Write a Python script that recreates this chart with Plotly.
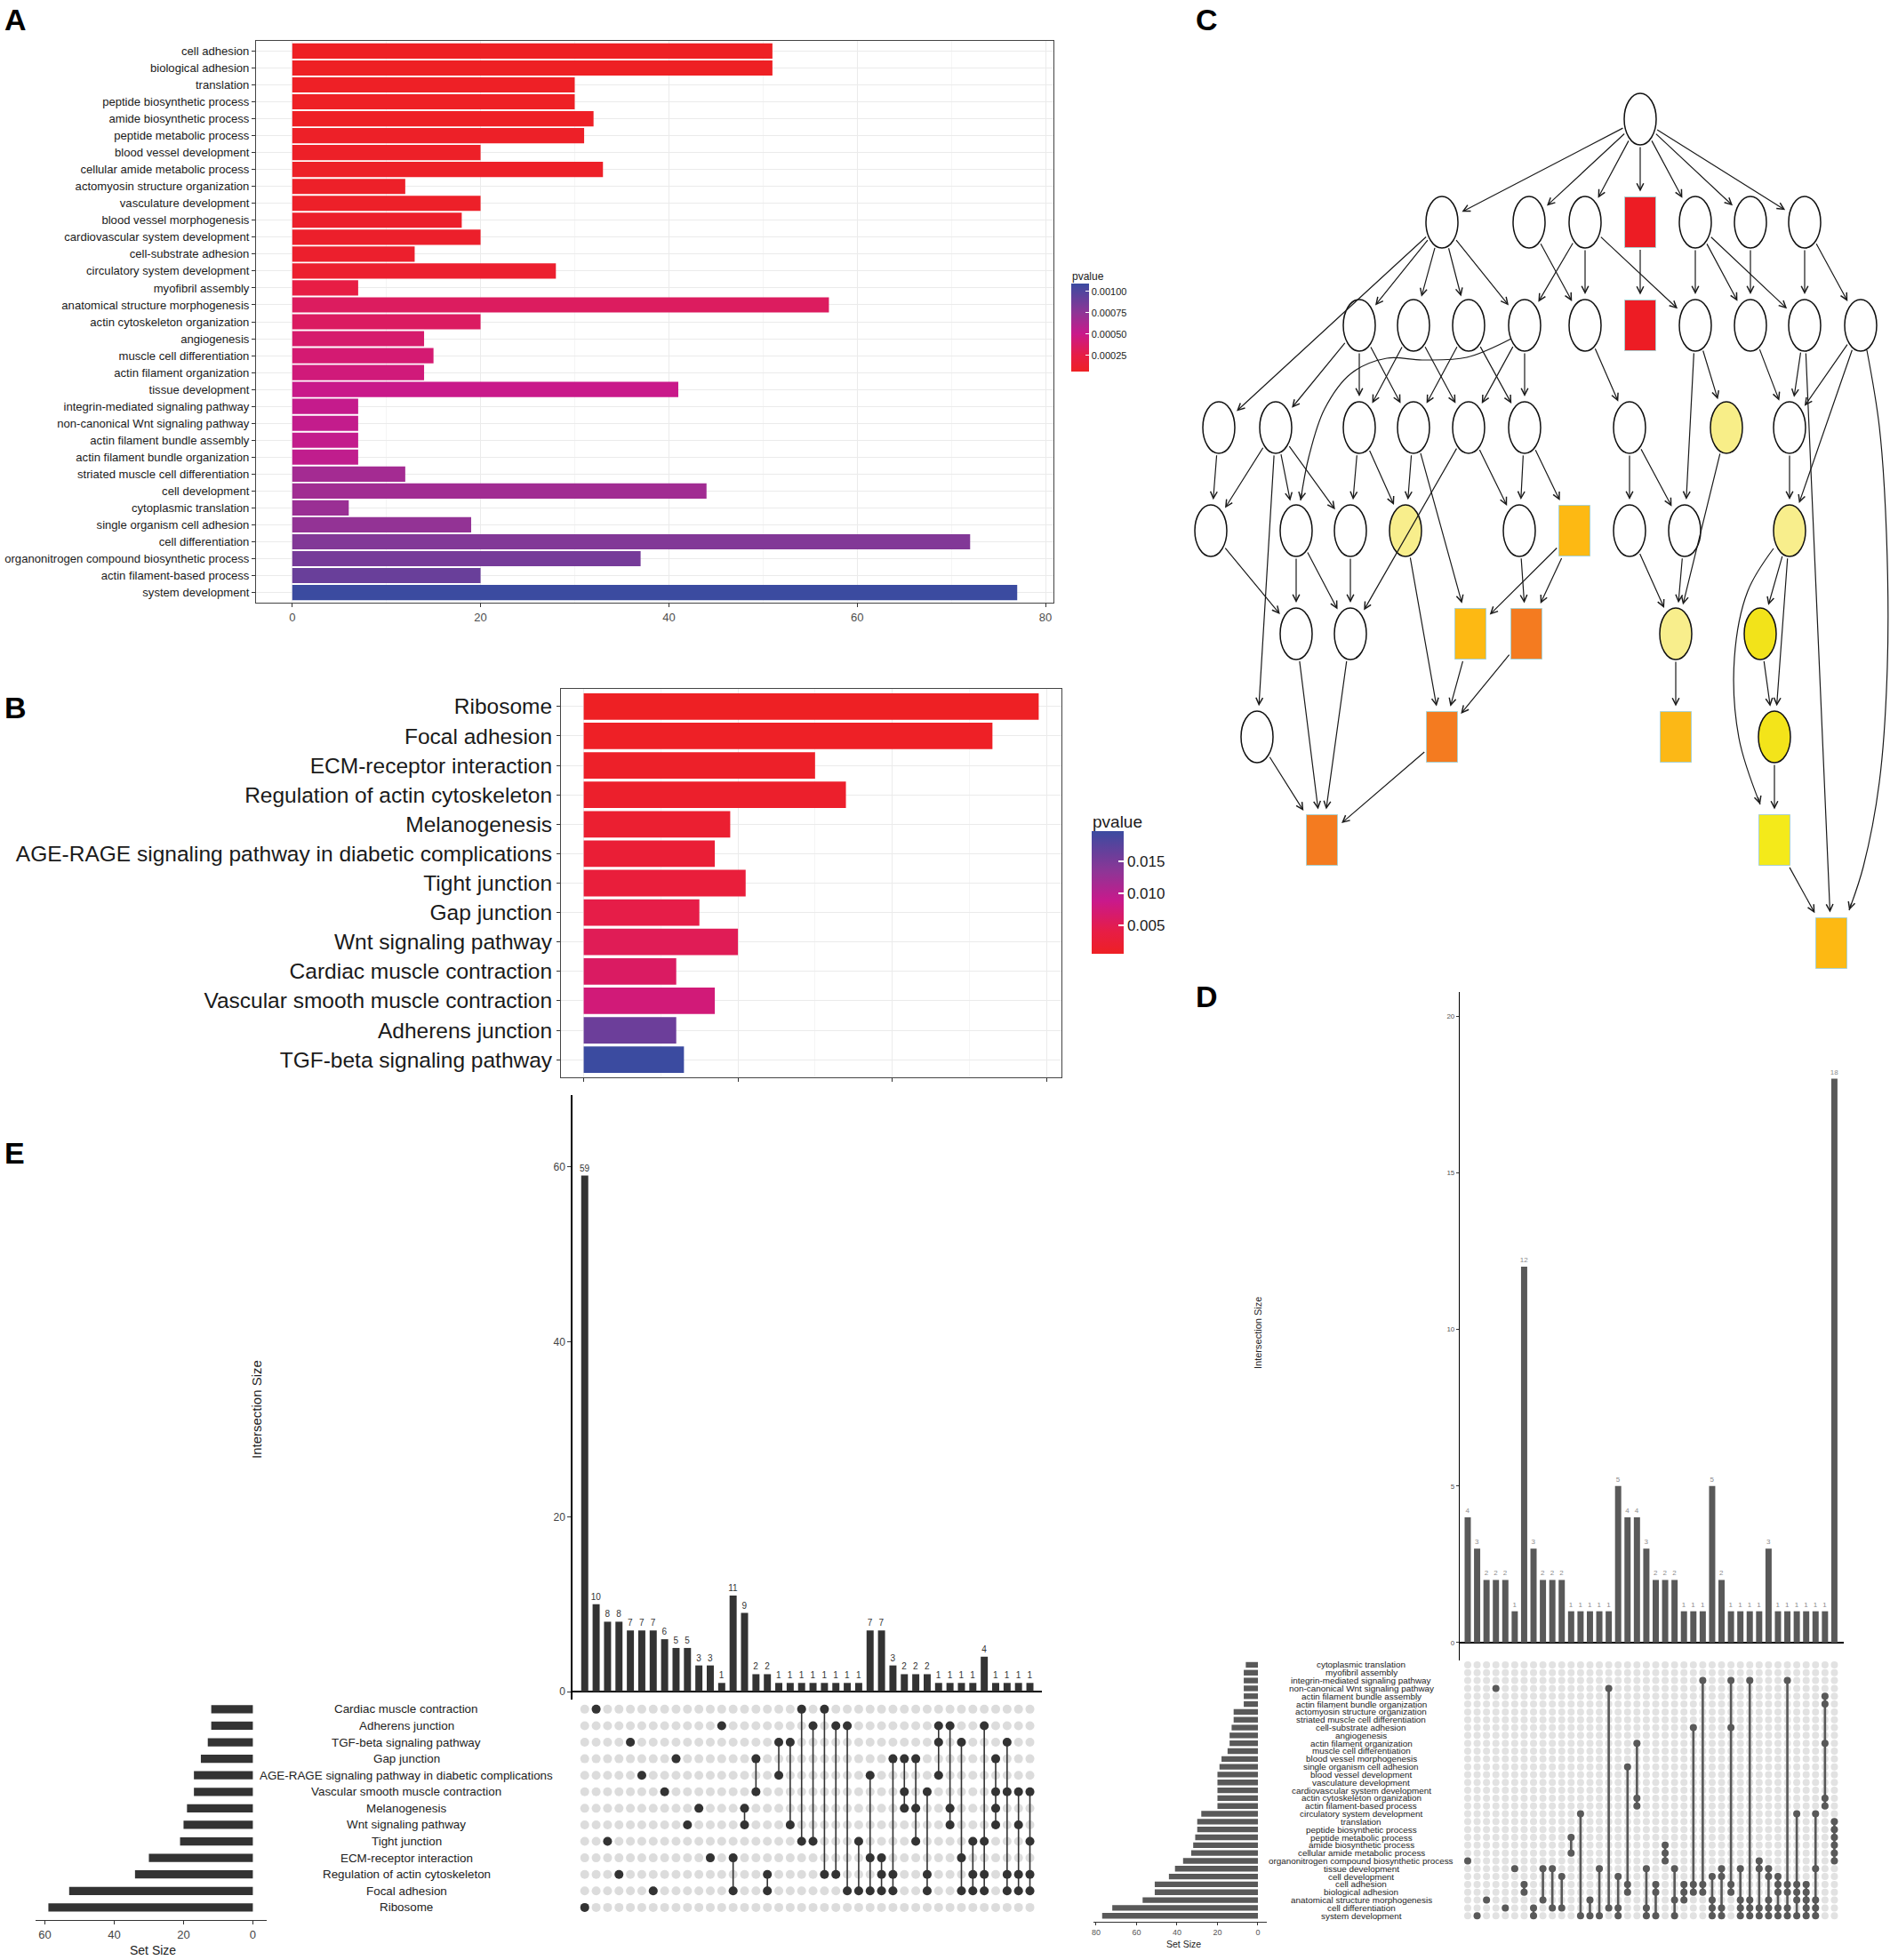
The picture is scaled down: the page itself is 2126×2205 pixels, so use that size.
import math
import plotly.graph_objects as go

W, H = 2126, 2205
FONT = "Liberation Sans, Arial, Helvetica, sans-serif"

# ---------------- Panel A : GO terms ----------------
go_terms = ["cell adhesion", "biological adhesion", "translation", "peptide biosynthetic process",
            "amide biosynthetic process", "peptide metabolic process", "blood vessel development",
            "cellular amide metabolic process", "actomyosin structure organization", "vasculature development",
            "blood vessel morphogenesis", "cardiovascular system development", "cell-substrate adhesion",
            "circulatory system development", "myofibril assembly", "anatomical structure morphogenesis",
            "actin cytoskeleton organization", "angiogenesis", "muscle cell differentiation",
            "actin filament organization", "tissue development", "integrin-mediated signaling pathway",
            "non-canonical Wnt signaling pathway", "actin filament bundle assembly",
            "actin filament bundle organization", "striated muscle cell differentiation", "cell development",
            "cytoplasmic translation", "single organism cell adhesion", "cell differentiation",
            "organonitrogen compound biosynthetic process", "actin filament-based process", "system development"]
go_counts = [51, 51, 30, 30, 32, 31, 20, 33, 12, 20, 18, 20, 13, 28, 7, 57, 20, 14, 15, 14, 41,
             7, 7, 7, 7, 12, 44, 6, 19, 72, 37, 20, 77]
go_pvalues = [0.00006, 0.00006, 0.00007, 0.00007, 0.00007, 0.00008, 0.00008, 0.00008, 0.00009, 0.00009,
              0.00010, 0.00010, 0.00011, 0.00012, 0.00024, 0.00034, 0.00035, 0.00039, 0.00041, 0.00044,
              0.00050, 0.00052, 0.00053, 0.00053, 0.00054, 0.00066, 0.00067, 0.00070, 0.00073, 0.00080,
              0.00085, 0.00090, 0.00109]
go_ticks = [0, 20, 40, 60, 80]
go_legend_ticks = [0.00025, 0.00050, 0.00075, 0.00100]
go_legend_text = ["0.00025", "0.00050", "0.00075", "0.00100"]

# ---------------- Panel B : KEGG pathways ----------------
kegg_terms = ["Ribosome", "Focal adhesion", "ECM-receptor interaction", "Regulation of actin cytoskeleton",
              "Melanogenesis", "AGE-RAGE signaling pathway in diabetic complications", "Tight junction",
              "Gap junction", "Wnt signaling pathway", "Cardiac muscle contraction",
              "Vascular smooth muscle contraction", "Adherens junction", "TGF-beta signaling pathway"]
kegg_counts = [59, 53, 30, 34, 19, 17, 21, 15, 20, 12, 17, 12, 13]
kegg_pvalues = [0.0006, 0.0008, 0.0011, 0.0014, 0.0019, 0.0024, 0.0030, 0.0042, 0.0052, 0.0060,
                0.0075, 0.0160, 0.0197]
kegg_legend_ticks = [0.005, 0.010, 0.015]
kegg_legend_text = ["0.005", "0.010", "0.015"]

# ---------------- Panel C : GO DAG ----------------
c_node_ids = ["R", "a1", "a2", "a3", "a4", "a5", "a6", "a7",
              "b1", "b2", "b3", "b4", "b5", "b6", "b7", "b8", "b9", "b10",
              "c1", "c2", "c3", "c4", "c5", "c6", "c7", "c8", "c9",
              "d1", "d2", "d3", "d4", "d5", "d6", "d7", "d8", "d9",
              "e1", "e2", "e3", "e4", "e5", "e6",
              "f1", "f2", "f3", "f4", "g1", "g2", "h1"]
c_node_x = [1845, 1622, 1720, 1783, 1845, 1907, 1969, 2030,
            1529, 1590, 1652, 1715, 1783, 1845, 1907, 1969, 2030, 2093,
            1371, 1435, 1529, 1590, 1652, 1715, 1833, 1942, 2013,
            1362, 1458, 1519, 1581, 1709, 1771, 1833, 1895, 2013,
            1458, 1519, 1654, 1717, 1885, 1980,
            1414, 1622, 1885, 1996, 1487, 1996, 2060]
c_node_y = [134, 250, 250, 250, 250, 250, 250, 250,
            366, 366, 366, 366, 366, 366, 366, 366, 366, 366,
            481, 481, 481, 481, 481, 481, 481, 481, 481,
            597, 597, 597, 597, 597, 597, 597, 597, 597,
            713, 713, 713, 713, 713, 713,
            829, 829, 829, 829, 945, 945, 1061]
c_node_shape = ["e", "e", "e", "e", "r", "e", "e", "e",
                "e", "e", "e", "e", "e", "r", "e", "e", "e", "e",
                "e", "e", "e", "e", "e", "e", "e", "e", "e",
                "e", "e", "e", "e", "e", "r", "e", "e", "e",
                "e", "e", "r", "r", "e", "e",
                "e", "r", "r", "e", "r", "r", "r"]
c_node_fill = ["white", "white", "white", "white", "#ED1C24", "white", "white", "white",
               "white", "white", "white", "white", "white", "#ED1C24", "white", "white", "white", "white",
               "white", "white", "white", "white", "white", "white", "white", "#F8EE88", "white",
               "white", "white", "white", "#F8EE8C", "white", "#FDB913", "white", "white", "#F8EE8C",
               "white", "white", "#FDB913", "#F47B20", "#F8EE8C", "#F2E31A",
               "white", "#F47B20", "#FCB816", "#F3E41A", "#F47B20", "#F4EA1A", "#FDB913"]
c_edges = [("R", "a1"), ("R", "a2"), ("R", "a3"), ("R", "a4"), ("R", "a5"), ("R", "a6"), ("R", "a7"),
           ("a1", "b1"), ("a1", "b2"), ("a1", "b3"), ("a1", "b4"), ("a1", "c1"),
           ("a2", "b5"), ("a3", "b4"), ("a3", "b5"), ("a3", "b7"), ("a4", "b6"),
           ("a5", "b7"), ("a5", "b8"), ("a5", "b9"), ("a6", "b8"), ("a7", "b9"), ("a7", "b10"),
           ("b1", "c2"), ("b1", "c3"), ("b1", "c4"), ("b2", "c3"), ("b2", "c5"), ("b3", "c4"), ("b3", "c6"),
           ("b4", "c5"), ("b4", "c6"), ("b5", "c7"), ("b7", "c8"), ("b7", "d8"), ("b8", "c9"),
           ("b9", "c9"), ("b9", "h1"), ("b10", "c9"), ("b10", "d9"),
           ("c1", "d1"), ("c2", "d1"), ("c2", "d2"), ("c2", "d3"), ("c2", "f1"), ("c3", "d3"), ("c3", "d4"),
           ("c4", "d4"), ("c4", "e3"), ("c5", "d5"), ("c5", "e2"), ("c6", "d5"), ("c6", "d6"),
           ("c7", "d7"), ("c7", "d8"), ("c8", "e5"), ("c9", "d9"),
           ("d1", "e1"), ("d2", "e1"), ("d2", "e2"), ("d3", "e2"), ("d4", "f2"), ("d5", "e4"),
           ("d6", "e3"), ("d6", "e4"), ("d7", "e5"), ("d8", "e5"), ("d9", "e6"), ("d9", "f4"),
           ("e1", "g1"), ("e2", "g1"), ("e3", "f2"), ("e4", "f2"), ("e5", "f3"), ("e6", "f4"),
           ("f1", "g1"), ("f2", "g1"), ("f4", "g2"), ("g2", "h1")]
c_curve_edges = [
    ("b4", "d2", [(1700, 381), (1650, 402), (1600, 405), (1560, 403), (1520, 420), (1490, 460), (1472, 515), (1463, 563)]),
    ("d9", "g2", [(1995, 617), (1966, 665), (1951, 740), (1956, 830), (1980, 905)]),
    ("b10", "h1", [(2100, 394), (2114, 480), (2122, 600), (2123, 750), (2114, 880), (2096, 975), (2080, 1024)]),
]

# ---------------- Panel D : GO UpSet ----------------
d_sets = ["cytoplasmic translation", "myofibril assembly", "integrin-mediated signaling pathway",
          "non-canonical Wnt signaling pathway", "actin filament bundle assembly",
          "actin filament bundle organization", "actomyosin structure organization",
          "striated muscle cell differentiation", "cell-substrate adhesion", "angiogenesis",
          "actin filament organization", "muscle cell differentiation", "blood vessel morphogenesis",
          "single organism cell adhesion", "blood vessel development", "vasculature development",
          "cardiovascular system development", "actin cytoskeleton organization", "actin filament-based process",
          "circulatory system development", "translation", "peptide biosynthetic process",
          "peptide metabolic process", "amide biosynthetic process", "cellular amide metabolic process",
          "organonitrogen compound biosynthetic process", "tissue development", "cell development",
          "cell adhesion", "biological adhesion", "anatomical structure morphogenesis", "cell differentiation",
          "system development"]
d_set_sizes = [6, 7, 7, 7, 7, 7, 12, 12, 13, 14, 14, 15, 18, 19, 20, 20, 20, 20, 20, 28, 30, 30, 31, 32, 33,
               37, 41, 44, 51, 51, 57, 72, 77]
d_inter_sizes = [4, 3, 2, 2, 2, 1, 12, 3, 2, 2, 2, 1, 1, 1, 1, 1, 5, 4, 4, 3, 2, 2, 2, 1, 1, 1, 5, 2,
                 1, 1, 1, 1, 3, 1, 1, 1, 1, 1, 1, 18]
d_inter_members = [[25], [32], [30], [3], [31], [26], [28, 29], [31, 32], [26, 30], [26, 31], [27, 31],
                   [22, 24], [19, 32], [30, 32], [26, 32], [3, 31], [27, 31, 32], [13, 28, 29],
                   [10, 17, 18], [26, 31, 32], [28, 29, 32], [23, 24, 25], [26, 30, 32], [28, 29, 30],
                   [8, 28, 29], [2, 28, 29], [27, 30, 31, 32], [26, 27, 31, 32], [2, 8, 28, 29],
                   [26, 30, 31, 32], [2, 30, 31, 32], [25, 26, 31, 32], [26, 27, 30, 31, 32],
                   [27, 28, 29, 31, 32], [2, 28, 29, 31, 32], [19, 28, 29, 30, 32], [28, 29, 30, 31, 32],
                   [19, 26, 30, 31, 32], [4, 5, 10, 17, 18], [20, 21, 22, 23, 24, 25]]
d_inter_ticks = [0, 5, 10, 15, 20]
d_set_ticks = [0, 20, 40, 60, 80]

# ---------------- Panel E : KEGG UpSet ----------------
e_sets = ["Cardiac muscle contraction", "Adherens junction", "TGF-beta signaling pathway", "Gap junction",
          "AGE-RAGE signaling pathway in diabetic complications", "Vascular smooth muscle contraction",
          "Melanogenesis", "Wnt signaling pathway", "Tight junction", "ECM-receptor interaction",
          "Regulation of actin cytoskeleton", "Focal adhesion", "Ribosome"]
e_set_sizes = [12, 12, 13, 15, 17, 17, 19, 20, 21, 30, 34, 53, 59]
e_inter_sizes = [59, 10, 8, 8, 7, 7, 7, 6, 5, 5, 3, 3, 1, 11, 9, 2, 2, 1, 1, 1, 1, 1, 1, 1, 1,
                 7, 7, 3, 2, 2, 2, 1, 1, 1, 1, 4, 1, 1, 1, 1]
e_inter_members = [[12], [0], [8], [10], [2], [4], [11], [5], [3], [7], [6], [9], [1], [9, 11], [6, 7],
                   [3, 5], [10, 11], [2, 4], [2, 7], [0, 8], [1, 8], [0, 10], [1, 10], [1, 11], [8, 11],
                   [4, 9, 11], [9, 10, 11], [3, 10, 11], [3, 5, 6], [3, 6, 8], [5, 10, 11], [1, 2, 4],
                   [1, 6, 7], [2, 9, 11], [8, 10, 11], [1, 8, 10, 11], [3, 5, 6, 7], [2, 5, 10, 11],
                   [5, 7, 10, 11], [5, 8, 10, 11]]
e_inter_ticks = [0, 20, 40, 60]
e_set_ticks = [0, 20, 40, 60]


# ---------------- helpers ----------------
def px(x):
    return x / W


def py(y):
    return 1 - y / H


def xdom(a, b):
    return [px(a), px(b)]


def ydom(top, bot):
    return [py(bot), py(top)]


PCS = [[0, "#EE2024"], [0.18, "#E71D45"], [0.43, "#C9198B"], [0.67, "#8E3596"], [1, "#3B4BA0"]]
GRID = "#EBEBEB"
GRID_MINOR = "#F5F5F5"

fig = go.Figure()
annotations = []
shapes = []


def label(x, y, text, size, angle=0, color="#222222", xanchor="center"):
    annotations.append(dict(x=px(x), y=py(y), xref="paper", yref="paper", text=text, showarrow=False,
                            textangle=angle, xanchor=xanchor, yanchor="middle",
                            font=dict(size=size, color=color)))


# ---------------- Panel A ----------------
fig.add_trace(go.Bar(
    x=go_counts, y=go_terms, orientation="h", width=0.9,
    marker=dict(color=go_pvalues, colorscale=PCS, cmin=0.00006, cmax=0.00109, line=dict(width=0),
                colorbar=dict(x=px(1205), xanchor="left", y=py(319), yanchor="top", len=99, lenmode="pixels",
                              thickness=20, xpad=0, ypad=0, outlinewidth=0,
                              tickvals=go_legend_ticks, ticktext=go_legend_text,
                              ticks="inside", ticklen=4, tickcolor="white", tickwidth=1,
                              tickfont=dict(size=11, color="#1A1A1A", family=FONT))),
    xaxis="x", yaxis="y", showlegend=False, hoverinfo="skip"))
label(1204, 311, "pvalue", 12, color="#1A1A1A", xanchor="left")

# ---------------- Panel B ----------------
fig.add_trace(go.Bar(
    x=kegg_counts, y=kegg_terms, orientation="h", width=0.9,
    marker=dict(color=kegg_pvalues, colorscale=PCS, cmin=0.00056, cmax=0.0197, line=dict(width=0),
                colorbar=dict(x=px(1228), xanchor="left", y=py(935), yanchor="top", len=138, lenmode="pixels",
                              thickness=36, xpad=0, ypad=0, outlinewidth=0,
                              tickvals=kegg_legend_ticks, ticktext=kegg_legend_text,
                              ticks="inside", ticklen=6, tickcolor="white", tickwidth=1.5,
                              tickfont=dict(size=17, color="#1A1A1A", family=FONT))),
    xaxis="x2", yaxis="y2", showlegend=False, hoverinfo="skip"))
label(1227, 924, "pvalue", 19, color="#1A1A1A", xanchor="left")

# ---------------- Panel C ----------------
EA, EB = 18, 29
RA, RB = 17.5, 28.5
nodes = {nid: (x, y, s) for nid, x, y, s in zip(c_node_ids, c_node_x, c_node_y, c_node_shape)}


def bnd(shape, ux, uy):
    if shape == "e":
        return 1.0 / math.sqrt((ux / EA) ** 2 + (uy / EB) ** 2)
    ca = RA / abs(ux) if abs(ux) > 1e-9 else 1e9
    cb = RB / abs(uy) if abs(uy) > 1e-9 else 1e9
    return min(ca, cb)


ARROW = dict(xref="x3", yref="y3", axref="x3", ayref="y3", text="", showarrow=True,
             arrowhead=5, arrowsize=1.25, arrowwidth=1.2, arrowcolor="#1A1A1A")

for s, t in c_edges:
    sx, sy, ss = nodes[s]
    tx, ty, ts = nodes[t]
    dx, dy = tx - sx, ty - sy
    L = math.hypot(dx, dy)
    ux, uy = dx / L, dy / L
    bs = bnd(ss, ux, uy)
    bt = bnd(ts, ux, uy)
    a = dict(ARROW)
    a.update(x=tx - ux * (bt + 6), y=ty - uy * (bt + 6), ax=sx + ux * (bs + 1), ay=sy + uy * (bs + 1))
    annotations.append(a)

for s, t, pts in c_curve_edges:
    xs = [p[0] for p in pts]
    ys = [p[1] for p in pts]
    fig.add_trace(go.Scatter(x=xs, y=ys, mode="lines", line=dict(color="#1A1A1A", width=1.2, shape="spline"),
                             xaxis="x3", yaxis="y3", showlegend=False, hoverinfo="skip"))
    (x1, y1), (x2, y2) = pts[-2], pts[-1]
    L = math.hypot(x2 - x1, y2 - y1)
    a = dict(ARROW)
    a.update(x=x2, y=y2, ax=x2 - (x2 - x1) / L * 10, ay=y2 - (y2 - y1) / L * 10)
    annotations.append(a)

for nid, x, y, shp, fill in zip(c_node_ids, c_node_x, c_node_y, c_node_shape, c_node_fill):
    if shp == "e":
        shapes.append(dict(type="circle", xref="x3", yref="y3", x0=x - EA, x1=x + EA, y0=y - EB, y1=y + EB,
                           fillcolor=fill, line=dict(color="#111111", width=1.5), layer="above"))
    else:
        shapes.append(dict(type="rect", xref="x3", yref="y3", x0=x - RA, x1=x + RA, y0=y - RB, y1=y + RB,
                           fillcolor=fill, line=dict(color="#A9D0D0", width=1), layer="above"))


# ---------------- UpSet helper ----------------
def upset_matrix(n_cols, n_rows, members, xa, ya, dot, gray, col, lw):
    gx, gy = [], []
    for i in range(n_cols):
        for r in range(n_rows):
            gx.append(i)
            gy.append(r)
    fig.add_trace(go.Scatter(x=gx, y=gy, mode="markers", marker=dict(size=dot, color=gray, line=dict(width=0)),
                             xaxis=xa, yaxis=ya, showlegend=False, hoverinfo="skip", cliponaxis=False))
    lx, ly = [], []
    for i, mem in enumerate(members):
        if len(mem) > 1:
            lx += [i, i, None]
            ly += [min(mem), max(mem), None]
    fig.add_trace(go.Scatter(x=lx, y=ly, mode="lines", line=dict(color=col, width=lw),
                             xaxis=xa, yaxis=ya, showlegend=False, hoverinfo="skip"))
    mx, my = [], []
    for i, mem in enumerate(members):
        for r in mem:
            mx.append(i)
            my.append(r)
    fig.add_trace(go.Scatter(x=mx, y=my, mode="markers", marker=dict(size=dot, color=col, line=dict(width=0)),
                             xaxis=xa, yaxis=ya, showlegend=False, hoverinfo="skip", cliponaxis=False))


# ---------------- Panel D ----------------
D_GRAY = "#595959"
for r in range(0, len(d_sets), 2):
    shapes.append(dict(type="rect", xref="paper", yref="y5", x0=px(1643), x1=px(2073), y0=r - 0.5, y1=r + 0.5,
                       fillcolor="#F2F2F2", line=dict(width=0), layer="below"))
fig.add_trace(go.Bar(x=list(range(len(d_inter_sizes))), y=d_inter_sizes, width=0.66,
                     marker=dict(color=D_GRAY, line=dict(width=0)),
                     text=[str(v) for v in d_inter_sizes], textposition="outside", constraintext="none",
                     textfont=dict(size=8, color="#8C8C8C"), cliponaxis=False,
                     xaxis="x4", yaxis="y4", showlegend=False, hoverinfo="skip"))
upset_matrix(len(d_inter_sizes), len(d_sets), d_inter_members, "x5", "y5", 8, "#E2E2E2", D_GRAY, 2.6)
fig.add_trace(go.Bar(x=d_set_sizes, y=list(range(len(d_sets))), orientation="h", width=0.72,
                     marker=dict(color=D_GRAY, line=dict(width=0)),
                     xaxis="x6", yaxis="y6", showlegend=False, hoverinfo="skip"))
for r, name in enumerate(d_sets):
    annotations.append(dict(x=px(1531), y=r, xref="paper", yref="y5", text=name, showarrow=False,
                            xanchor="center", yanchor="middle", font=dict(size=9.9, color="#222222")))
label(1415, 1500, "Intersection Size", 11, angle=-90)
label(1331, 2187, "Set Size", 10.5)

# ---------------- Panel E ----------------
E_DARK = "#333333"
for r in range(0, len(e_sets), 2):
    shapes.append(dict(type="rect", xref="paper", yref="y8", x0=px(644), x1=px(1172), y0=r - 0.5, y1=r + 0.5,
                       fillcolor="#F0F0F0", line=dict(width=0), layer="below"))
fig.add_trace(go.Bar(x=list(range(len(e_inter_sizes))), y=e_inter_sizes, width=0.62,
                     marker=dict(color=E_DARK, line=dict(width=0)),
                     text=[str(v) for v in e_inter_sizes], textposition="outside", constraintext="none",
                     textfont=dict(size=10, color="#333333"), cliponaxis=False,
                     xaxis="x7", yaxis="y7", showlegend=False, hoverinfo="skip"))
upset_matrix(len(e_inter_sizes), len(e_sets), e_inter_members, "x8", "y8", 10, "#DCDCDC", E_DARK, 1.6)
fig.add_trace(go.Bar(x=e_set_sizes, y=list(range(len(e_sets))), orientation="h", width=0.5,
                     marker=dict(color=E_DARK, line=dict(width=0)),
                     xaxis="x9", yaxis="y9", showlegend=False, hoverinfo="skip"))
for r, name in enumerate(e_sets):
    annotations.append(dict(x=px(457), y=r, xref="paper", yref="y8", text=name, showarrow=False,
                            xanchor="center", yanchor="middle", font=dict(size=13.4, color="#222222")))
label(288, 1586, "Intersection Size", 15)
annotations[-1]["textangle"] = -90
label(172, 2194, "Set Size", 14)

# ---------------- Panel letters ----------------
for letter, lx, ly in [("A", 17, 22), ("B", 17, 796), ("C", 1357, 22), ("D", 1357, 1121), ("E", 16, 1297)]:
    label(lx, ly, "<b>%s</b>" % letter, 34, color="#000000")

# ---------------- Axes ----------------
hidden = dict(showgrid=False, zeroline=False, showticklabels=False, showline=False, ticks="", automargin=False)

layout = dict(
    width=W, height=H, margin=dict(l=0, r=0, t=0, b=0), autosize=False,
    paper_bgcolor="white", plot_bgcolor="white", template="none",
    font=dict(family=FONT, color="#1A1A1A"), showlegend=False,
    xaxis=dict(domain=xdom(288, 1185), anchor="y", range=[-3.85, 80.85], tickvals=go_ticks,
               ticks="outside", ticklen=4, tickcolor="#333333", tickfont=dict(size=13, color="#4D4D4D"),
               showgrid=True, gridcolor=GRID, gridwidth=1,
               minor=dict(tickvals=[10, 30, 50, 70], showgrid=True, gridcolor=GRID_MINOR, ticks=""),
               showline=True, mirror=True, linecolor="#444444", linewidth=1, zeroline=False, automargin=False),
    yaxis=dict(domain=ydom(46, 678), anchor="x", type="category", categoryorder="array",
               categoryarray=go_terms[::-1], range=[-0.6, 32.6],
               ticks="outside", ticklen=4, tickcolor="#333333", tickfont=dict(size=13.1, color="#1A1A1A"),
               showgrid=True, gridcolor=GRID, showline=True, mirror=True, linecolor="#444444",
               linewidth=1, zeroline=False, automargin=False),
    xaxis2=dict(domain=xdom(631, 1194), anchor="y2", range=[-2.95, 61.95], tickvals=[0, 20, 40, 60],
                ticks="outside", ticklen=4, tickcolor="#333333", showticklabels=False,
                showgrid=True, gridcolor=GRID,
                minor=dict(tickvals=[10, 30, 50], showgrid=True, gridcolor=GRID_MINOR, ticks=""),
                showline=True, mirror=True, linecolor="#444444", linewidth=1, zeroline=False, automargin=False),
    yaxis2=dict(domain=ydom(775, 1212), anchor="x2", type="category", categoryorder="array",
                categoryarray=kegg_terms[::-1], range=[-0.6, 12.6],
                ticks="outside", ticklen=4, tickcolor="#333333", tickfont=dict(size=24.5, color="#1A1A1A"),
                showgrid=True, gridcolor=GRID, showline=True, mirror=True, linecolor="#444444",
                linewidth=1, zeroline=False, automargin=False),
    xaxis3=dict(domain=xdom(1330, 2126), anchor="y3", range=[1330, 2126], **hidden),
    yaxis3=dict(domain=ydom(0, 1100), anchor="x3", range=[1100, 0], **hidden),
    xaxis4=dict(domain=xdom(1642, 2074), anchor="y4", range=[-0.85, 40.0], **hidden),
    yaxis4=dict(domain=ydom(1116, 1868), anchor="x4", range=[-0.57, 20.77], tickvals=d_inter_ticks,
                ticks="outside", ticklen=3, tickcolor="#333333", tickfont=dict(size=8, color="#555555"),
                showline=True, linecolor="#000000", linewidth=1.2, showgrid=False,
                zeroline=True, zerolinecolor="#000000", zerolinewidth=2, automargin=False),
    xaxis5=dict(domain=xdom(1642, 2074), anchor="y5", range=[-0.85, 40.0], **hidden),
    yaxis5=dict(domain=ydom(1866, 2162), anchor="x5", range=[32.77, -0.79], **hidden),
    xaxis6=dict(domain=xdom(1230, 1425), anchor="y6", range=[81.3, -4.4], tickvals=d_set_ticks,
                ticks="outside", ticklen=3, tickcolor="#333333", tickfont=dict(size=9, color="#555555"),
                showline=True, linecolor="#333333", linewidth=1, showgrid=False, zeroline=False,
                automargin=False),
    yaxis6=dict(domain=ydom(1866, 2162), anchor="x6", range=[32.77, -0.79], **hidden),
    xaxis7=dict(domain=xdom(644, 1172), anchor="y7", range=[-1.07, 40.05], **hidden),
    yaxis7=dict(domain=ydom(1232, 1912), anchor="x7", range=[-0.9, 68.2], tickvals=e_inter_ticks,
                ticks="outside", ticklen=4, tickcolor="#333333", tickfont=dict(size=12, color="#444444"),
                showline=True, linecolor="#000000", linewidth=1.5, showgrid=False,
                zeroline=True, zerolinecolor="#000000", zerolinewidth=2, automargin=False),
    xaxis8=dict(domain=xdom(644, 1172), anchor="y8", range=[-1.07, 40.05], **hidden),
    yaxis8=dict(domain=ydom(1908, 2160), anchor="x8", range=[12.76, -0.8], **hidden),
    xaxis9=dict(domain=xdom(40, 300), anchor="y9", range=[62.7, -4.0], tickvals=e_set_ticks,
                ticks="outside", ticklen=4, tickcolor="#333333", tickfont=dict(size=13, color="#444444"),
                showline=True, linecolor="#333333", linewidth=1, showgrid=False, zeroline=False,
                automargin=False),
    yaxis9=dict(domain=ydom(1908, 2160), anchor="x9", range=[12.76, -0.8], **hidden),
    annotations=annotations,
    shapes=shapes,
)
fig.update_layout(**layout)

fig.write_html("out.html", include_plotlyjs=True, config={"displayModeBar": False},
               post_script="document.body.style.margin='0';")
